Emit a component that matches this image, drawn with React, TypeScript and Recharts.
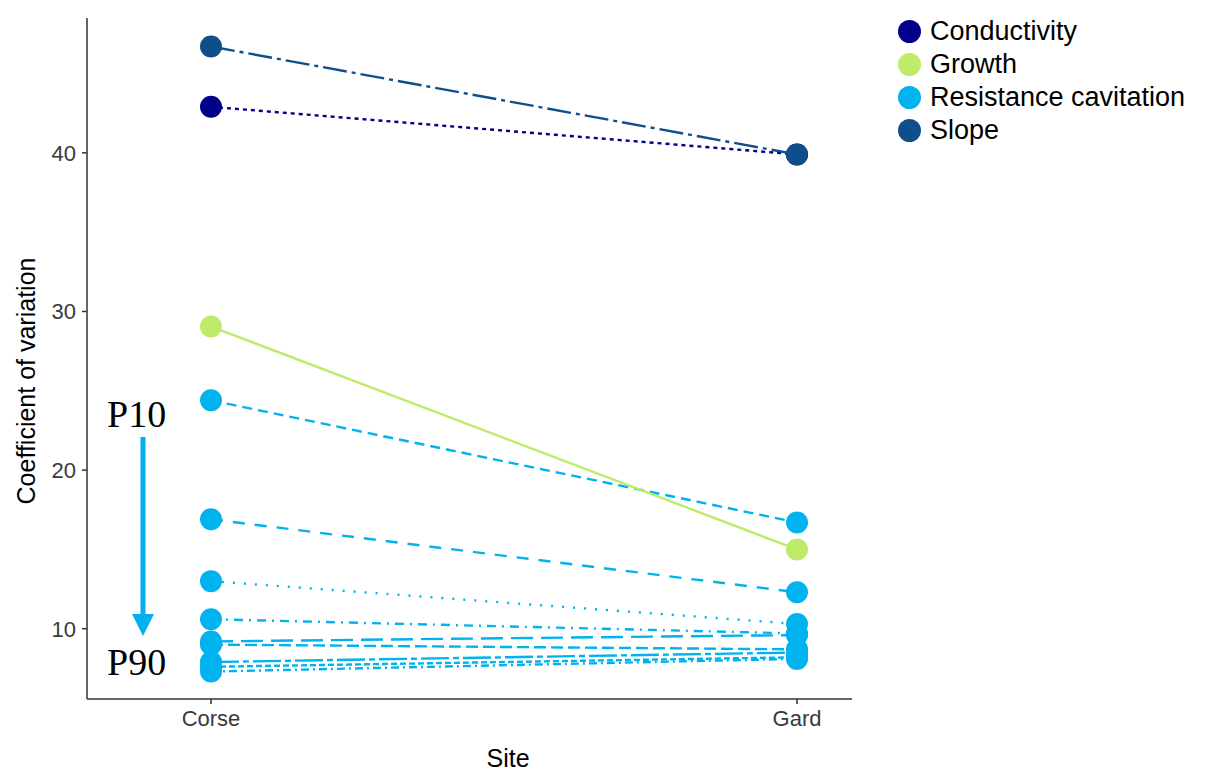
import { LineChart, Line, XAxis, YAxis } from "recharts"

const sites = ["Corse", "Gard"]
const conductivity = [42.9, 39.9]
const growth = [29.05, 15.0]
const slope = [46.7, 39.9]
// resistance cavitation, P10 .. P90
const resistanceCorse = [24.4, 16.9, 13.0, 10.6, 9.2, 9.0, 7.9, 7.6, 7.3]
const resistanceGard = [16.7, 12.3, 10.3, 9.7, 9.6, 8.7, 8.5, 8.2, 8.1]
const resistanceDashes = ["10 6", "12 10", "2 9", "9 6 2 6", "22 8", "12 5", "28 4 6 4", "6 3", "8 4 2 4"]
const yTicks = [10, 20, 30, 40]

const colors = {
  conductivity: "#00008B",
  growth: "#BFEB6A",
  resistance: "#00B2EE",
  slope: "#104E8B",
}

const legendItems = [
  { name: "Conductivity", color: colors.conductivity },
  { name: "Growth", color: colors.growth },
  { name: "Resistance cavitation", color: colors.resistance },
  { name: "Slope", color: colors.slope },
]

const font = "'Liberation Sans', Arial, sans-serif"
const serif = "'Liberation Serif', 'Times New Roman', serif"

const data = sites.map((site, i) => {
  const row: Record<string, string | number> = {
    site,
    conductivity: conductivity[i],
    growth: growth[i],
    slope: slope[i],
  }
  const vals = i === 0 ? resistanceCorse : resistanceGard
  vals.forEach((v, k) => {
    row[`r${k}`] = v
  })
  return row
})

const dotFor = (color: string) => ({ r: 11, fill: color, stroke: color, strokeWidth: 0 })

export default function App() {
  return (
    <div style={{ position: "absolute", left: 0, top: 0, width: 1205, height: 771, background: "#fff" }}>
      <LineChart width={1205} height={771} data={data} margin={{ top: 18, right: 353, bottom: 0, left: 0 }}>
        <XAxis
          dataKey="site"
          height={72}
          padding={{ left: 124, right: 55 }}
          axisLine={{ stroke: "#333", strokeWidth: 1.5 }}
          tickLine={{ stroke: "#333", strokeWidth: 1.5 }}
          tickSize={5}
          tickMargin={6}
          tick={{ fill: "#3a3a3a", fontSize: 22, fontFamily: font }}
          label={() => (
            <text x={508} y={767} textAnchor="middle" fontSize={25} fontFamily={font} fill="#000">
              Site
            </text>
          )}
        />
        <YAxis
          width={87}
          type="number"
          domain={[5.57, 48.5]}
          ticks={yTicks}
          axisLine={{ stroke: "#333", strokeWidth: 1.5 }}
          tickLine={{ stroke: "#333", strokeWidth: 1.5 }}
          tickSize={5}
          tickMargin={6}
          tick={{ fill: "#3a3a3a", fontSize: 22, fontFamily: font }}
          label={() => (
            <text
              x={35}
              y={381}
              transform="rotate(-90 35 381)"
              textAnchor="middle"
              fontSize={25}
              fontFamily={font}
              fill="#000"
            >
              Coefficient of variation
            </text>
          )}
        />
        {resistanceDashes.map((dash, k) => (
          <Line
            key={k}
            type="linear"
            dataKey={`r${k}`}
            stroke={colors.resistance}
            strokeWidth={2.4}
            strokeDasharray={dash}
            dot={dotFor(colors.resistance)}
            activeDot={false}
            isAnimationActive={false}
          />
        ))}
        <Line
          type="linear"
          dataKey="conductivity"
          stroke={colors.conductivity}
          strokeWidth={2.4}
          strokeDasharray="4 4"
          dot={dotFor(colors.conductivity)}
          activeDot={false}
          isAnimationActive={false}
        />
        <Line
          type="linear"
          dataKey="growth"
          stroke={colors.growth}
          strokeWidth={2.4}
          dot={dotFor(colors.growth)}
          activeDot={false}
          isAnimationActive={false}
        />
        <Line
          type="linear"
          dataKey="slope"
          stroke={colors.slope}
          strokeWidth={2.4}
          strokeDasharray="24 5 4 5"
          dot={dotFor(colors.slope)}
          activeDot={false}
          isAnimationActive={false}
        />
      </LineChart>

      {/* legend */}
      <div style={{ position: "absolute", left: 898, top: 15, fontFamily: font, fontSize: 27, color: "#000" }}>
        {legendItems.map((it) => (
          <div key={it.name} style={{ display: "flex", alignItems: "center", height: 33 }}>
            <span
              style={{
                width: 23,
                height: 23,
                borderRadius: "50%",
                background: it.color,
                display: "inline-block",
                marginRight: 9,
              }}
            />
            <span style={{ lineHeight: "33px" }}>{it.name}</span>
          </div>
        ))}
      </div>

      {/* P10 -> P90 annotation */}
      <div style={{ position: "absolute", left: 107, top: 392, fontFamily: serif, fontSize: 38 }}>P10</div>
      <div style={{ position: "absolute", left: 107, top: 640, fontFamily: serif, fontSize: 38 }}>P90</div>
      <svg style={{ position: "absolute", left: 0, top: 0 }} width={200} height={700}>
        <line x1={143} y1={437} x2={143} y2={616} stroke="#00B0F0" strokeWidth={5} />
        <polygon points="132,614 154,614 143,636" fill="#00B0F0" />
      </svg>
    </div>
  )
}
